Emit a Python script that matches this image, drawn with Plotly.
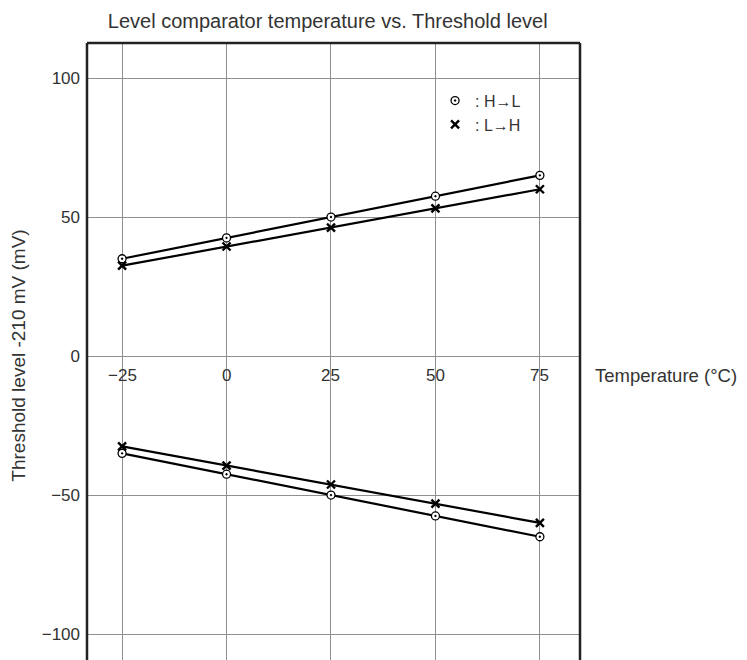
import plotly.graph_objects as go

_FONT = "'Liberation Sans', Arial, Helvetica, sans-serif"
_GRID = "#8f8f8f"
_TXT = "#333333"

# ── data ──────────────────────────────────────────────────────────────────────
temps = [-25, 0, 25, 50, 75]
h_to_l_upper = [35, 42.5, 50, 57.5, 65]
h_to_l_lower = [-35, -42.5, -50, -57.5, -65]
l_to_h_upper = [32.5, 39.4, 46.2, 53.1, 60]
l_to_h_lower = [-32.5, -39.4, -46.2, -53.1, -60]

x_ticks = [-25, 0, 25, 50, 75]
x_ticktext = ["\u221225", "0", "25", "50", "75"]
y_ticks = [-100, -50, 0, 50, 100]
y_ticktext = ["\u2212100", "\u221250", "0", "50", "100"]

circ = dict(symbol="circle-dot", size=8, color="white",
            line=dict(color="black", width=1.3))
cross = dict(symbol="x-thin", size=8, color="black",
             line=dict(color="black", width=2.4))

fig = go.Figure()

for ys in (h_to_l_upper, h_to_l_lower):
    fig.add_trace(go.Scatter(x=temps, y=ys, mode="lines+markers",
                             line=dict(color="black", width=2.2),
                             marker=circ, showlegend=False))
for ys in (l_to_h_upper, l_to_h_lower):
    fig.add_trace(go.Scatter(x=temps, y=ys, mode="lines+markers",
                             line=dict(color="black", width=2.2),
                             marker=cross, showlegend=False))

# legend-only entries (marker samples)
fig.add_trace(go.Scatter(x=[None], y=[None], mode="markers", marker=circ,
                         name=": H\u2192L"))
fig.add_trace(go.Scatter(x=[None], y=[None], mode="markers", marker=cross,
                         name=": L\u2192H"))

# x tick labels sit under the zero line, inside the plot
annotations = [
    dict(x=xv, y=0, xref="x", yref="y", text=t, showarrow=False,
         yshift=-19, font=dict(size=17, color=_TXT, family=_FONT))
    for xv, t in zip(x_ticks, x_ticktext)
]
annotations.append(dict(
    x=1.026, y=0, xref="paper", yref="y", text="Temperature (\u00b0C)",
    xanchor="left", showarrow=False, yshift=-19,
    font=dict(size=18.5, color=_TXT, family=_FONT)))

# frame: left, top, right (no bottom edge)
border = dict(color="#222222", width=2.5)
shapes = [
    dict(type="line", xref="paper", yref="paper", x0=0, x1=0, y0=0, y1=1, line=border),
    dict(type="line", xref="paper", yref="paper", x0=0, x1=1, y0=1, y1=1, line=border),
    dict(type="line", xref="paper", yref="paper", x0=1, x1=1, y0=0, y1=1, line=border),
]

fig.update_layout(
    width=747, height=660,
    paper_bgcolor="white", plot_bgcolor="white",
    font=dict(family=_FONT, color=_TXT),
    title=dict(text="Level comparator temperature vs. Threshold level",
               x=0.428, xanchor="center", y=0.980, yanchor="middle",
               font=dict(size=20, color=_TXT)),
    margin=dict(l=79, r=175, t=35, b=0),
    xaxis=dict(range=[-33.4, 84.6], tickvals=x_ticks, showticklabels=False,
               showgrid=True, gridcolor=_GRID, gridwidth=1, automargin=False,
               zeroline=False, showline=False, ticks=""),
    yaxis=dict(range=[-112.2, 112.6], tickvals=y_ticks, ticktext=y_ticktext,
               showgrid=True, gridcolor=_GRID, gridwidth=1, automargin=False,
               zeroline=False, showline=False, ticks="", ticklabelstandoff=6,
               tickfont=dict(size=17, color=_TXT),
               title=dict(text="Threshold level -210 mV (mV)", standoff=11,
                          font=dict(size=19, color=_TXT))),
    legend=dict(x=0.706, y=0.935, xanchor="left", yanchor="top",
                bgcolor="rgba(0,0,0,0)", font=dict(size=16, color=_TXT),
                itemwidth=30, tracegroupgap=0),
    shapes=shapes,
    annotations=annotations,
)

fig.write_html("out.html")
